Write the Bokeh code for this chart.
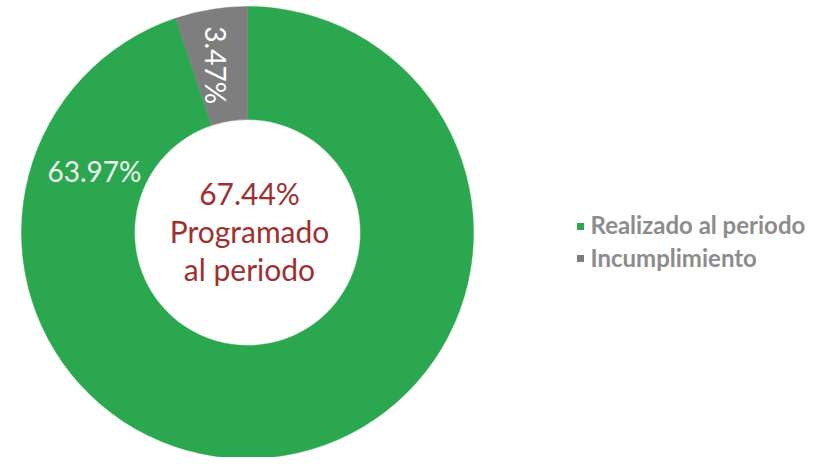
import math
from bokeh.plotting import figure
from bokeh.models import Range1d, ColumnDataSource
from bokeh.core.properties import value
from bokeh.embed import file_html
from bokeh.resources import INLINE

# ---- data ----
categories = ["Realizado al periodo", "Incumplimiento"]
values = [63.97, 3.47]
colors = ["#2BA84F", "#7E7E7E"]
label_texts = ["63.97%", "3.47%"]
center_lines = ["67.44%", "Programado", "al periodo"]

W, H = 814, 457
def X(px):  # picture px -> data x
    return px
def Y(py):  # picture px -> data y
    return H - py

p = figure(width=W, height=H, output_backend="svg", toolbar_location=None,
           x_range=Range1d(0, W), y_range=Range1d(0, H), min_border=0)
p.axis.visible = False
p.grid.visible = False
p.outline_line_color = None
p.background_fill_color = "white"
p.border_fill_color = "white"

cx, cy = X(247), Y(232)
R_out, R_in = 226, 113

total = sum(values)
starts, ends = [], []
a = math.pi / 2
for v in values:
    starts.append(a)
    a = a - 2 * math.pi * v / total
    ends.append(a)

src = ColumnDataSource(dict(start=starts, end=ends, color=colors, cat=categories))
p.annular_wedge(x=cx, y=cy, inner_radius=R_in, outer_radius=R_out,
                start_angle="start", end_angle="end", direction="clock",
                fill_color="color", line_color="color", line_width=0.5, source=src)

# slice labels
mid_grey = (starts[1] + ends[1]) / 2
rl = (R_out + R_in) / 2
p.text(x=[cx + rl * math.cos(mid_grey) - 4], y=[cy + rl * math.sin(mid_grey)],
       text=[label_texts[1]], angle=-math.pi / 2, text_align="center",
       text_baseline="middle", text_color="white", text_font=value("Lato"),
       text_font_size="28px")
p.text(x=[X(47)], y=[Y(170)], text=[label_texts[0]], text_align="left",
       text_baseline="alphabetic", text_color="#EEF7EF", text_font=value("Lato"),
       text_font_size="28px")

# center text
p.text(x=[X(249)] * 3, y=[Y(192), Y(230), Y(268)], text=center_lines,
       text_align="center", text_baseline="alphabetic", text_color="#A03030",
       text_font=value("Lato"), text_font_size="30px")

# legend
p.scatter(x=[X(580), X(580)], y=[Y(226), Y(258)], marker="square", size=7,
          fill_color=colors, line_color=None)
p.text(x=[X(590), X(590)], y=[Y(224), Y(257)], text=categories,
       text_align="left", text_baseline="alphabetic", text_color="#8C8C8C",
       text_font=value("Lato"), text_font_style="bold", text_font_size="24px")

open("out.html", "w").write(file_html(p, INLINE))
